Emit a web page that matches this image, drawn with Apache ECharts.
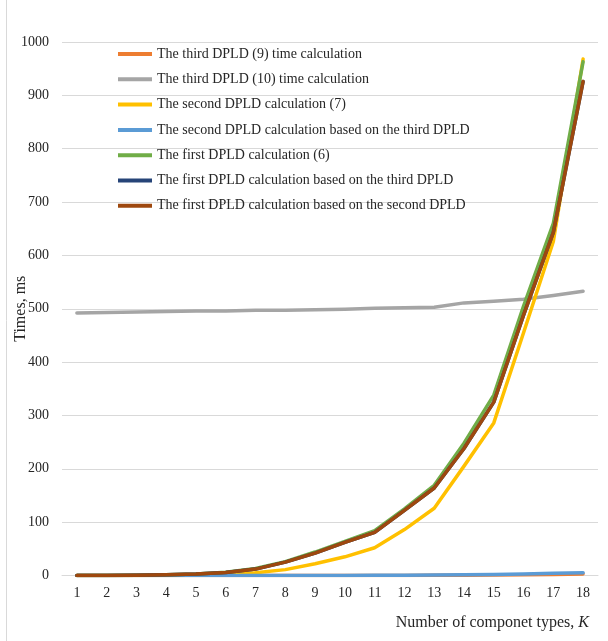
<!DOCTYPE html>
<html>
<head>
<meta charset="utf-8">
<script src="https://cdn.jsdelivr.net/npm/echarts@6/dist/echarts.min.js"></script>
<style>
html,body{margin:0;padding:0;background:#fff;}
#chart{width:608px;height:641px;}
</style>
</head>
<body>
<div id="chart"></div>
<script>
const categories = ['1','2','3','4','5','6','7','8','9','10','11','12','13','14','15','16','17','18'];
const seriesNames = [
  'The third DPLD (9) time calculation',
  'The third DPLD (10) time calculation',
  'The second DPLD calculation (7)',
  'The second DPLD calculation based on the third DPLD',
  'The first DPLD calculation (6)',
  'The first DPLD calculation based on the third DPLD',
  'The first DPLD calculation based on the second DPLD'
];
const thirdDPLD9 = [0,0,0,0,0,0,0,0,0,0.1,0.1,0.2,0.3,0.5,0.8,1.2,2,3];
const thirdDPLD10 = [492,493,494,495,496,496,497,497,498,499,501,502,503,511,514,518,525,533];
const secondDPLD7 = [0,0,0.1,0.3,0.8,2,5,11,22,35,52,86,126,205,286,455,626,968];
const secondOnThird = [0,0,0,0,0,0,0,0.1,0.1,0.2,0.3,0.5,0.8,1.2,1.8,2.8,4,5];
const firstDPLD6 = [0.1,0.2,0.6,1.4,3,6,13,26,44,64,84,125,169,248,338,505,660,963];
const firstOnThird = [0.1,0.2,0.5,1.2,2.7,5.5,12,25,42,62,81,122,164,238,325,488,643,926];
const firstOnSecond = [0.1,0.2,0.5,1.2,2.7,5.5,12,25,42,62,81,122,164,238,325,488,643,926];
const yTicks = {min:0, max:1000, interval:100};

const colors = ['#ED7D31','#A5A5A5','#FFC000','#5B9BD5','#70AD47','#264478','#9E480E'];
const dataSets = [thirdDPLD9, thirdDPLD10, secondDPLD7, secondOnThird, firstDPLD6, firstOnThird, firstOnSecond];
const font = 'Liberation Serif, Times New Roman, serif';

const chart = echarts.init(document.getElementById('chart'), null, {renderer:'canvas'});
chart.setOption({
  animation:false,
  color: colors,
  textStyle:{fontFamily:font},
  grid:{left:62, right:10, top:42, bottom:65.5, outerBoundsMode:'none', containLabel:false},
  legend:{
    orient:'vertical', left:113, top:41,
    icon:'rect', itemWidth:34, itemHeight:4, itemGap:9.3,
    textStyle:{fontFamily:font, fontSize:14, color:'#262626', lineHeight:16},
    data: seriesNames
  },
  xAxis:{
    type:'category', data:categories, boundaryGap:true,
    axisLine:{lineStyle:{color:'#d9d9d9', width:1}},
    axisTick:{show:false},
    axisLabel:{fontFamily:font, fontSize:14, color:'#262626', margin:11},
    name:'Number of componet types, {i|K}',
    nameLocation:'end', nameGap:-9, nameMoveOverlap:false,
    nameTextStyle:{fontFamily:font, fontSize:16, color:'#262626', align:'right', verticalAlign:'top', padding:[39,0,0,0],
      rich:{i:{fontFamily:font, fontSize:16, fontStyle:'italic', color:'#262626'}}}
  },
  yAxis:{
    type:'value', min:yTicks.min, max:yTicks.max, interval:yTicks.interval,
    axisLine:{show:false}, axisTick:{show:false},
    splitLine:{lineStyle:{color:'#d9d9d9', width:1}},
    axisLabel:{fontFamily:font, fontSize:14, color:'#262626', margin:13, formatter:v=>String(v)},
    name:'Times, ms', nameLocation:'middle', nameGap:33, nameMoveOverlap:false,
    nameTextStyle:{fontFamily:font, fontSize:16, color:'#262626'}
  },
  graphic:[{type:'line', shape:{x1:6.5,y1:0,x2:6.5,y2:641}, style:{stroke:'#d9d9d9', lineWidth:1}, silent:true}],
  series: dataSets.map((d,i)=>({
    name: seriesNames[i], type:'line', data:d,
    symbol:'none', smooth:false,
    lineStyle:{width:3.5, color:colors[i], cap:'round', join:'round'},
    itemStyle:{color:colors[i]},
    z: 2+i
  }))
});
</script>
</body>
</html>
